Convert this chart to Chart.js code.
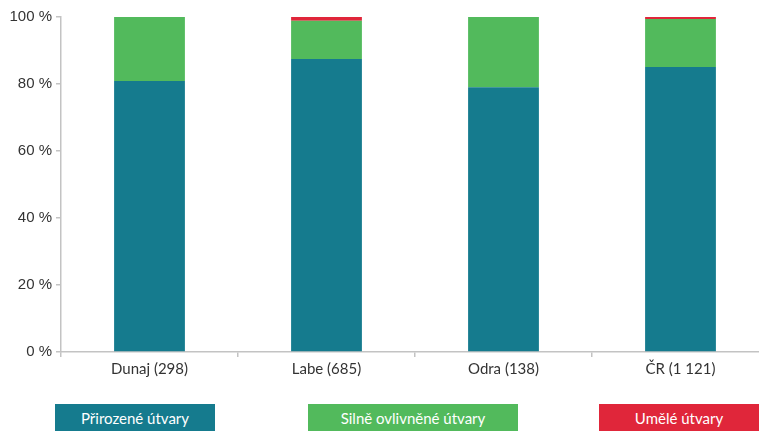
<!DOCTYPE html>
<html>
<head>
<meta charset="utf-8">
<script src="https://cdn.jsdelivr.net/npm/chart.js@4/dist/chart.umd.min.js"></script>
<style>
  html, body { margin: 0; padding: 0; background: #fff; overflow: hidden; }
  #wrap { position: relative; width: 759px; height: 431px; overflow: hidden; }
  #chart-box { position: absolute; left: 0; top: 0; width: 780px; height: 392px; }
  .legend-item {
    position: absolute; top: 404px; height: 30px; line-height: 28px;
    color: #fff; text-align: center; font-family: Lato, "Open Sans", sans-serif; font-size: 15px;
  }
</style>
</head>
<body>
<div id="wrap">
  <div id="chart-box"><canvas id="chart" width="780" height="392"></canvas></div>
  <div id="legend"></div>
</div>
<script>
const categories = ["Dunaj (298)", "Labe (685)", "Odra (138)", "ČR (1 121)"];
const prirozene = [80.9, 87.5, 79.0, 85.1];
const silne = [19.1, 11.4, 21.0, 14.3];
const umele = [0.0, 1.1, 0.0, 0.6];
const seriesNames = ["Přirozené útvary", "Silně ovlivněné útvary", "Umělé útvary"];
const seriesColors = ["#157b8e", "#52ba5c", "#e0263a"];

// legend boxes under the chart
const legendPos = [[55, 160], [308, 210], [599, 160]];
const legend = document.getElementById("legend");
legend.innerHTML = seriesNames.map((name, i) =>
  `<div class="legend-item" style="left:${legendPos[i][0]}px;width:${legendPos[i][1]}px;background:${seriesColors[i]}">${name}</div>`
).join("");

const axisColor = "#c3c3c3";
const ctx = document.getElementById("chart").getContext("2d");
const chart = new Chart(ctx, {
  type: "bar",
  data: {
    labels: categories,
    datasets: [prirozene, silne, umele].map((vals, i) => ({
      label: seriesNames[i],
      data: vals,
      backgroundColor: seriesColors[i],
      borderWidth: 0,
      categoryPercentage: 1,
      barPercentage: 0.4
    }))
  },
  options: {
    responsive: false,
    animation: false,
    layout: { padding: { top: 17, right: 11, left: 0, bottom: 0 } },
    plugins: { legend: { display: false }, tooltip: { enabled: false } },
    scales: {
      x: {
        stacked: true,
        grid: { display: true, drawOnChartArea: false, tickLength: 5, color: axisColor, lineWidth: 1.5, offset: true },
        border: { color: axisColor, width: 1.5 },
        ticks: { color: "#333", font: { family: "Lato", size: 15 }, padding: 3 },
        afterFit: (scale) => { scale.height = 40; }
      },
      y: {
        stacked: true,
        min: 0,
        max: 100,
        grid: { display: true, drawOnChartArea: false, tickLength: 5, color: axisColor, lineWidth: 1.5 },
        border: { color: axisColor, width: 1.5 },
        ticks: {
          stepSize: 20,
          color: "#333",
          padding: 4,
          font: { family: "Liberation Sans", size: 15 },
          callback: (v) => v + " %"
        },
        afterFit: (scale) => { scale.width = 61; }
      }
    }
  }
});
</script>
</body>
</html>
